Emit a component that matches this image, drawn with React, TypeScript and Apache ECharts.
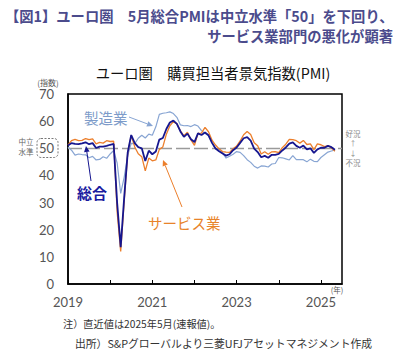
import React, { useEffect, useRef } from "react";
import * as echarts from "echarts";

const years = [2019, 2020, 2021, 2022, 2023, 2024, 2025];
const monthCount = 79; // 2019-01 .. 2025-07 axis span
const xTickYears = ["2019", "2021", "2023", "2025"];

// Eurozone composite PMI
const composite = [
  51.0, 51.9, 51.6, 51.5, 51.8, 52.2, 51.5, 51.9, 50.1, 50.6, 50.6, 50.9,
  51.3, 51.6, 29.7, 13.6, 31.9, 48.5, 54.9, 51.9, 50.4, 50.0, 45.3, 49.1,
  47.8, 48.8, 53.2, 53.8, 57.1, 59.5, 60.2, 59.0, 56.2, 54.2, 55.4, 53.3,
  52.3, 55.5, 54.9, 55.8, 54.8, 52.0, 49.9, 48.9, 48.1, 47.3, 47.8, 49.3,
  50.3, 52.0, 53.7, 54.1, 52.8, 49.9, 48.6, 46.7, 47.2, 46.5, 47.6, 47.6,
  47.9, 49.2, 50.3, 51.7, 52.2, 50.9, 50.2, 51.0, 49.6, 50.0, 48.3, 49.6,
  50.2, 50.2, 50.9, 50.4, 49.5,
];
// Manufacturing PMI
const manufacturing = [
  50.5, 49.3, 47.5, 47.9, 47.7, 47.6, 46.5, 47.0, 45.7, 45.9, 46.9, 46.3,
  47.9, 49.2, 44.5, 33.4, 39.4, 47.4, 51.8, 51.7, 53.7, 54.8, 53.8, 55.2,
  54.8, 57.9, 62.5, 62.9, 63.1, 63.4, 62.8, 61.4, 58.6, 58.3, 58.4, 58.0,
  58.7, 58.2, 56.5, 55.5, 54.6, 52.1, 49.8, 49.6, 48.4, 46.4, 47.1, 47.8,
  48.8, 48.5, 47.3, 45.8, 44.8, 43.4, 42.7, 43.5, 43.4, 43.1, 44.2, 44.4,
  46.6, 46.5, 46.1, 45.7, 47.3, 45.8, 45.8, 45.8, 45.0, 46.0, 45.2, 45.1,
  46.6, 47.6, 48.6, 49.0, 49.4,
];
// Services PMI
const services = [
  51.2, 52.8, 53.3, 52.8, 52.9, 53.6, 53.2, 53.5, 51.6, 52.2, 51.9, 52.8,
  52.5, 52.6, 26.4, 12.0, 30.5, 48.3, 54.7, 50.5, 48.0, 46.9, 41.7, 46.4,
  45.4, 45.7, 49.6, 50.5, 55.2, 58.3, 59.8, 59.0, 56.4, 54.6, 55.9, 53.1,
  51.1, 55.5, 55.6, 57.7, 56.1, 53.0, 51.2, 49.8, 48.8, 48.6, 48.5, 49.8,
  50.8, 52.7, 55.0, 56.2, 55.1, 52.0, 50.9, 47.9, 48.7, 47.8, 48.7, 48.8,
  48.4, 50.2, 51.5, 53.3, 53.2, 52.8, 51.9, 52.9, 51.4, 51.6, 49.5, 51.6,
  51.3, 50.6, 51.0, 50.1, 48.9,
];

const COL_COMP = "#16168f";
const COL_SERV = "#ec7f2c";
const COL_MFG = "#88a5d3";
const JP = '"Noto Sans CJK JP", sans-serif';

function arrow(x1: number, y1: number, x2: number, y2: number, color: string, w = 1) {
  const dx = x2 - x1, dy = y2 - y1;
  const len = Math.sqrt(dx * dx + dy * dy);
  const ux = dx / len, uy = dy / len;
  const px = -uy, py = ux;
  const h = 6, hw = 2.8;
  const bx = x2 - h * ux, by = y2 - h * uy;
  return [
    { type: "line", shape: { x1, y1, x2: bx, y2: by }, style: { stroke: color, lineWidth: w }, z: 10 },
    {
      type: "polygon",
      shape: { points: [[x2, y2], [bx + hw * px, by + hw * py], [bx - hw * px, by - hw * py]] },
      style: { fill: color },
      z: 10,
    },
  ];
}

function txt(x: number, y: number, text: string, opts: any = {}) {
  return {
    type: "text",
    x,
    y,
    z: 10,
    style: {
      text,
      fill: opts.fill || "#333",
      font: `${opts.weight || "normal"} ${opts.size || 10}px ${opts.family || JP}`,
      textAlign: opts.align || "left",
      textVerticalAlign: "middle",
    },
  };
}

export default function App() {
  const ref = useRef<HTMLDivElement>(null);
  useEffect(() => {
    if (!ref.current) return;
    const chart = echarts.init(ref.current, null, { renderer: "svg" });
    const months: string[] = [];
    for (let i = 0; i < monthCount; i++) {
      const y = years[0] + Math.floor(i / 12);
      const m = (i % 12) + 1;
      months.push(`${y}-${m < 10 ? "0" + m : m}`);
    }
    const option: any = {
      animation: false,
      backgroundColor: "#fff",
      grid: { left: 68, right: 55, top: 94, bottom: 68, show: true, borderColor: "#000", borderWidth: 1.5 },
      xAxis: {
        type: "category",
        data: months,
        boundaryGap: false,
        axisLine: { show: true, lineStyle: { color: "#000", width: 1.5 } },
        axisTick: { show: true, inside: true, length: 4, interval: (i: number) => i % 12 === 0, lineStyle: { color: "#000", width: 1 } },
        axisLabel: {
          interval: (i: number) => i % 24 === 0,
          formatter: (v: string) => (xTickYears.includes(v.slice(0, 4)) ? v.slice(0, 4) : ""),
          color: "#555",
          fontSize: 13,
          margin: 11,
          fontFamily: "Lato, sans-serif",
        },
        splitLine: { show: false },
      },
      yAxis: {
        type: "value",
        min: 0,
        max: 70,
        interval: 10,
        axisLine: { show: true, lineStyle: { color: "#000", width: 1.5 } },
        axisTick: { show: false },
        axisLabel: { color: "#555", fontSize: 13, margin: 14, fontFamily: "Lato, sans-serif" },
        splitLine: { show: false },
      },
      series: [
        {
          name: "製造業",
          type: "line",
          data: manufacturing,
          symbol: "none",
          lineStyle: { color: COL_MFG, width: 1.2 },
          z: 2,
          markLine: {
            silent: true,
            symbol: "none",
            label: { show: false },
            lineStyle: { color: "#9a9a9a", type: [14, 4], width: 1.3 },
            data: [{ yAxis: 50 }],
            z: 1,
          },
        },
        {
          name: "サービス業",
          type: "line",
          data: services,
          symbol: "none",
          lineStyle: { color: COL_SERV, width: 1.3 },
          z: 3,
        },
        {
          name: "総合",
          type: "line",
          data: composite,
          symbol: "none",
          lineStyle: { color: COL_COMP, width: 1.8 },
          z: 4,
        },
      ],
      graphic: [
        txt(5, 15, "【図1】ユーロ圏　5月総合PMIは中立水準「50」を下回り、", { size: 14.3, weight: "bold", fill: "#4b4b8c" }),
        txt(393, 35, "サービス業部門の悪化が顕著", { size: 14.3, weight: "bold", fill: "#4b4b8c", align: "right" }),
        txt(213, 72, "ユーロ圏　購買担当者景気指数(PMI)", { size: 14.3, fill: "#111", align: "center" }),
        txt(48, 82, "(指数)", { size: 8, fill: "#555", align: "center" }),
        txt(26, 141, "中立", { size: 7.5, fill: "#666", align: "center" }),
        txt(26, 151, "水準", { size: 7.5, fill: "#666", align: "center" }),
        {
          type: "rect",
          shape: { x: 37, y: 138.5, width: 21, height: 19, r: 4 },
          style: { fill: "none", stroke: "#777", lineWidth: 1, lineDash: [2, 1.5] },
          z: 10,
        },
        txt(353, 133, "好況", { size: 7.5, fill: "#888", align: "center" }),
        txt(353, 142.5, "↑", { size: 7, fill: "#888", align: "center" }),
        txt(353, 152.5, "↓", { size: 7, fill: "#888", align: "center" }),
        txt(353, 162, "不況", { size: 7.5, fill: "#888", align: "center" }),
        txt(337, 289, "(年)", { size: 7.5, fill: "#555", align: "center" }),
        txt(84, 117, "製造業", { size: 14.5, fill: "#7d9bc9" }),
        ...arrow(129, 117, 153, 126, COL_MFG),
        txt(77, 192, "総合", { size: 15, fill: "#1a1aa0", weight: "bold" }),
        ...arrow(91, 181, 86, 146, COL_COMP),
        txt(148, 222, "サービス業", { size: 14.5, fill: "#e8832a" }),
        ...arrow(182, 207, 163, 160, COL_SERV),
        txt(63, 323, "注）直近値は2025年5月(速報値)。", { size: 10.2, fill: "#333" }),
        txt(75, 343, "出所）S&Pグローバルより三菱UFJアセットマネジメント作成", { size: 10.8, fill: "#333" }),
      ],
    };
    chart.setOption(option);
    return () => chart.dispose();
  }, []);
  return <div ref={ref} style={{ position: "fixed", left: 0, top: 0, width: 397, height: 352 }} />;
}
